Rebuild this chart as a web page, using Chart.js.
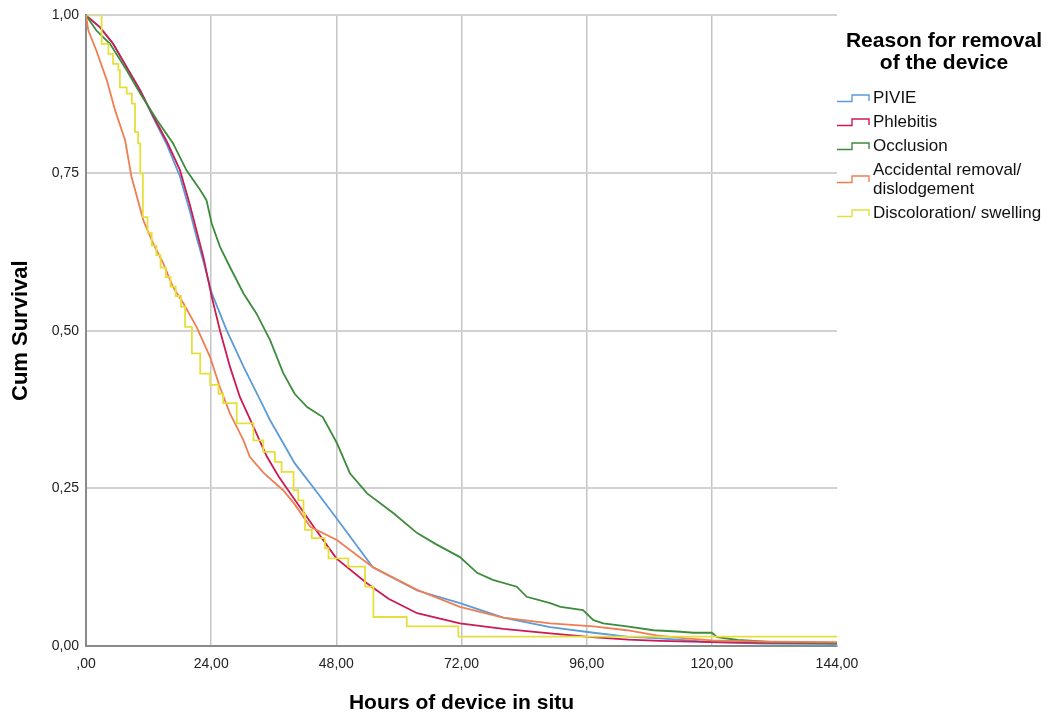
<!DOCTYPE html>
<html>
<head>
<meta charset="utf-8">
<script src="https://cdn.jsdelivr.net/npm/chart.js@4.4.1/dist/chart.umd.min.js"></script>
<style>
  html, body { margin: 0; padding: 0; background: #fff; }
  #wrap { position: relative; width: 1049px; height: 720px; font-family: "Liberation Sans", Arial, sans-serif; }
  #legendTitle { position: absolute; left: 838px; top: 29px; width: 212px; text-align: center;
    font-weight: bold; font-size: 21px; line-height: 22px; color: #000; }
  #legend { position: absolute; left: 836px; top: 88px; }
  .row { display: flex; align-items: center; font-size: 17px; line-height: 19px; color: #111; margin-bottom: 5px; }
  .row svg { flex: none; margin-right: 2px; }
</style>
</head>
<body>
<div id="wrap">
  <canvas id="kmChart" width="1049" height="720"></canvas>
  <div id="legendTitle">Reason for removal<br>of the device</div>
  <div id="legend"></div>
</div>
<script>
// series labels and colours
const reasons = ['PIVIE', 'Phlebitis', 'Occlusion', 'Accidental removal/\ndislodgement', 'Discoloration/ swelling'];
const colors = ['#5b9bd8', '#cc1a52', '#3d8b3d', '#ef7f52', '#e5df3c'];

// x / y tick values
const hourTicks = [0, 24, 48, 72, 96, 120, 144];
const survTicks = [0, 0.25, 0.5, 0.75, 1];

// PIVIE
const pivieHours = [0, 2.7, 5.2, 7.8, 10.4, 12.9, 15.5, 18.0, 19.9, 21.2, 22.5, 24.1, 27.0, 30.2, 33.4, 35.3, 37.8, 40, 44, 48, 55, 63.5, 71.7, 80, 89, 97.3, 103.7, 110, 120, 130, 144];
const pivieSurv = [1, 0.981, 0.955, 0.918, 0.881, 0.838, 0.795, 0.745, 0.69, 0.648, 0.61, 0.56, 0.50, 0.443, 0.39, 0.358, 0.322, 0.29, 0.247, 0.203, 0.125, 0.088, 0.068, 0.045, 0.030, 0.021, 0.015, 0.012, 0.006, 0.004, 0.003];

// Phlebitis
const phlebHours = [0, 2.7, 5.2, 7.8, 10.4, 12.9, 15.5, 18.0, 19.9, 22.5, 24.1, 25.7, 27.6, 29.5, 32.1, 34.7, 37, 39.7, 44, 48, 53.8, 58, 63.5, 71.7, 80, 89, 97, 104, 110, 120, 130, 144];
const phlebSurv = [1, 0.981, 0.955, 0.918, 0.881, 0.84, 0.80, 0.755, 0.70, 0.617, 0.554, 0.50, 0.443, 0.395, 0.348, 0.30, 0.268, 0.236, 0.185, 0.139, 0.10, 0.075, 0.052, 0.036, 0.027, 0.02, 0.014, 0.01, 0.008, 0.006, 0.005, 0.005];

// Occlusion
const occlHours = [0, 2, 4.6, 7.8, 10.4, 13.6, 16.7, 19.3, 21.9, 23.1, 24.1, 25.7, 27.6, 30.2, 32.7, 35.3, 37.8, 40, 42.4, 45.4, 48.1, 50.6, 53.9, 58.9, 63.5, 67, 71.7, 75, 78, 82.6, 84.5, 89, 91, 95.3, 97.3, 99.2, 103.7, 108.8, 113.3, 116.5, 120, 121, 125, 132, 144];
const occlSurv = [1, 0.976, 0.955, 0.913, 0.876, 0.834, 0.797, 0.754, 0.723, 0.707, 0.67, 0.633, 0.601, 0.559, 0.527, 0.485, 0.433, 0.40, 0.379, 0.363, 0.322, 0.274, 0.242, 0.211, 0.179, 0.162, 0.141, 0.116, 0.105, 0.094, 0.078, 0.068, 0.062, 0.057, 0.041, 0.036, 0.031, 0.025, 0.023, 0.021, 0.021, 0.014, 0.0095, 0.006, 0.005];

// Accidental removal / dislodgement
const accHours = [0, 0.45, 2.0, 4.0, 5.6, 7.5, 8.7, 11.0, 12.9, 14.8, 16.7, 18.7, 21.2, 23.8, 25.7, 27.6, 30.2, 31.4, 34, 37.8, 40, 43, 48.1, 55, 63.5, 71.7, 80, 89, 97.3, 103.7, 109.4, 115, 120, 130, 144];
const accSurv = [1, 0.976, 0.944, 0.897, 0.849, 0.802, 0.745, 0.675, 0.638, 0.607, 0.569, 0.543, 0.506, 0.458, 0.41, 0.369, 0.326, 0.30, 0.275, 0.247, 0.225, 0.189, 0.168, 0.125, 0.089, 0.062, 0.045, 0.036, 0.031, 0.025, 0.017, 0.012, 0.009, 0.007, 0.006];

// Discoloration / swelling (few events, drawn as steps)
const discHours = [0, 3.0, 4.3, 5.2, 6.2, 6.5, 7.8, 8.8, 9.4, 10.0, 10.4, 10.9, 11.8, 12.6, 13.5, 14.3, 15.3, 16.2, 17.2, 18.2, 19.0, 20.3, 21.9, 23.8, 25.4, 26.3, 28.9, 32.1, 34.0, 36.2, 37.5, 39.8, 40.7, 41.7, 42.0, 43.3, 45.8, 46.5, 50.3, 53.5, 55.1, 61.5, 71.4, 144];
const discSurv = [1, 0.955, 0.939, 0.923, 0.913, 0.886, 0.876, 0.86, 0.815, 0.797, 0.749, 0.68, 0.655, 0.635, 0.62, 0.60, 0.585, 0.57, 0.555, 0.538, 0.506, 0.464, 0.432, 0.414, 0.40, 0.385, 0.353, 0.326, 0.308, 0.292, 0.276, 0.247, 0.231, 0.21, 0.184, 0.171, 0.155, 0.139, 0.126, 0.094, 0.046, 0.031, 0.015, 0.015];

const allHours = [pivieHours, phlebHours, occlHours, accHours, discHours];
const allSurv = [pivieSurv, phlebSurv, occlSurv, accSurv, discSurv];

function comma(v, lead) {
    let s = v.toFixed(2).replace('.', ',');
    if (!lead && s.startsWith('0,')) s = s.slice(1);
    return s;
}

document.addEventListener('DOMContentLoaded', function() {
    const datasets = reasons.map(function(name, i) {
        return {
            label: name,
            data: allHours[i].map(function(h, j) { return { x: h, y: allSurv[i][j] }; }),
            borderColor: colors[i],
            borderWidth: 1.8,
            pointRadius: 0,
            fill: false,
            tension: 0,
            stepped: i === 4 ? 'before' : false,
            order: 4 - i
        };
    });

    const ctx = document.getElementById('kmChart').getContext('2d');
    new Chart(ctx, {
        type: 'line',
        data: { datasets: datasets },
        options: {
            responsive: false,
            animation: false,
            layout: { padding: { left: 0, top: 15, right: 212, bottom: 0 } },
            plugins: {
                legend: { display: false },
                tooltip: { enabled: false }
            },
            scales: {
                x: {
                    type: 'linear',
                    min: 0,
                    max: 144,
                    afterBuildTicks: function(scale) {
                        scale.ticks = hourTicks.map(function(v) { return { value: v }; });
                    },
                    afterFit: function(scale) { scale.height = 74; },
                    ticks: {
                        padding: 10,
                        color: '#222',
                        font: { family: 'Liberation Sans', size: 14 },
                        callback: function(v) { return comma(v, false); }
                    },
                    grid: {
                        drawTicks: false,
                        lineWidth: 1.5,
                        color: function(c) { return c.tick && c.tick.value === 144 ? 'rgba(0,0,0,0)' : '#c4c4c4'; }
                    },
                    border: { color: '#8a8a8a', width: 2 },
                    title: {
                        display: true,
                        text: 'Hours of device in situ',
                        color: '#000',
                        font: { family: 'Liberation Sans', size: 21, weight: 'bold' },
                        padding: { top: 0, bottom: 4 }
                    }
                },
                y: {
                    min: 0,
                    max: 1,
                    afterBuildTicks: function(scale) {
                        scale.ticks = survTicks.map(function(v) { return { value: v }; });
                    },
                    afterFit: function(scale) { scale.width = 86; },
                    ticks: {
                        padding: 7,
                        color: '#222',
                        font: { family: 'Liberation Sans', size: 14 },
                        callback: function(v) { return comma(v, true); }
                    },
                    grid: {
                        drawTicks: false,
                        lineWidth: 2,
                        color: '#d2d2d2'
                    },
                    border: { color: '#8a8a8a', width: 2 },
                    title: {
                        display: true,
                        text: 'Cum Survival',
                        color: '#000',
                        font: { family: 'Liberation Sans', size: 22, weight: 'bold' },
                        padding: { top: 8, bottom: 0 }
                    }
                }
            }
        }
    });

    // html legend with the step glyph
    const legend = document.getElementById('legend');
    reasons.forEach(function(name, i) {
        const row = document.createElement('div');
        row.className = 'row';
        row.innerHTML = '<svg width="35" height="10"><path d="M1 8.5 H16 V2 H33 V8" fill="none" stroke="' +
            colors[i] + '" stroke-width="1.4"/></svg><span>' + name.replace('\n', '<br>') + '</span>';
        legend.appendChild(row);
    });
});
</script>
</body>
</html>
